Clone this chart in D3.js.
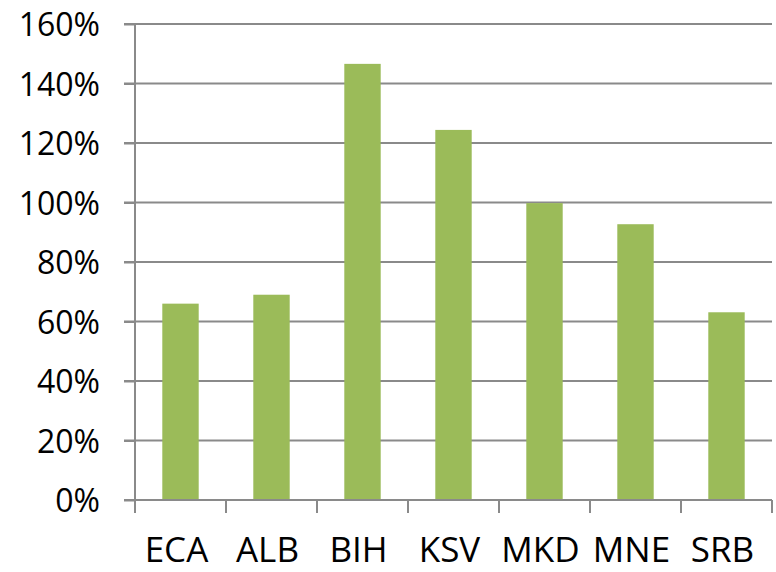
<!DOCTYPE html>
<html>
<head>
<meta charset="utf-8">
<script src="https://cdn.jsdelivr.net/npm/d3@7"></script>
<style>
  body { margin: 0; background: #fff; }
  svg { display: block; }
  .axis text { font-family: "Open Sans", sans-serif; font-size: 32px; fill: #000; }
  .axis text.xlbl { font-size: 35px; }
</style>
</head>
<body>
<svg id="chart"></svg>
<script>
var categories = ['ECA', 'ALB', 'BIH', 'KSV', 'MKD', 'MNE', 'SRB'];
var values = [0.66, 0.69, 1.466, 1.244, 0.998, 0.927, 0.631];
var yTicks = [0, 0.2, 0.4, 0.6, 0.8, 1.0, 1.2, 1.4, 1.6];

var totalWidth = 776;
var totalHeight = 572;
var margin = { top: 24, right: 4, bottom: 72, left: 135 };
var width = totalWidth - margin.left - margin.right;
var height = totalHeight - margin.top - margin.bottom;

var svg = d3.select("#chart")
    .attr("width", totalWidth)
    .attr("height", totalHeight);

var g = svg.append("g")
    .attr("transform", "translate(" + margin.left + "," + margin.top + ")");

var x = d3.scaleBand().domain(categories).range([0, width]).paddingInner(0.6).paddingOuter(0.3);
var xTick = d3.scaleBand().domain(categories).range([0, width]);
var y = d3.scaleLinear().domain([0, 1.6]).range([height, 0]);

// gridlines (extend left past the axis like excel tick marks)
g.append("g")
    .selectAll("line")
    .data(yTicks)
    .enter()
    .append("line")
    .attr("x1", -11)
    .attr("x2", width)
    .attr("y1", function (d) { return y(d); })
    .attr("y2", function (d) { return y(d); })
    .attr("stroke", "#8a8a8a")
    .attr("stroke-width", 2);

// bars
g.selectAll(".bar")
    .data(categories)
    .enter()
    .append("rect")
    .attr("class", "bar")
    .attr("x", function (d) { return x(d); })
    .attr("y", function (d, i) { return y(values[i]); })
    .attr("width", x.bandwidth())
    .attr("height", function (d, i) { return height - y(values[i]); })
    .attr("fill", "#9bbb59");

// y axis
var yAxis = g.append("g")
    .attr("class", "axis")
    .call(d3.axisLeft(y).tickValues(yTicks).tickSize(11).tickPadding(24)
        .tickFormat(function (d) { return Math.round(d * 100) + "%"; }));
yAxis.select(".domain").attr("stroke", "#8a8a8a").attr("stroke-width", 2).attr("d", "M0,0V" + height);
yAxis.selectAll(".tick line").attr("stroke", "#8a8a8a").attr("stroke-width", 2);
yAxis.selectAll(".tick text").attr("dy", "0.36em");

// x axis: ticks between categories
var xg = g.append("g")
    .attr("class", "axis")
    .attr("transform", "translate(0," + height + ")");
xg.append("line")
    .attr("x1", 0).attr("x2", width)
    .attr("stroke", "#8a8a8a").attr("stroke-width", 2);
var bounds = categories.map(function (d) { return xTick(d); }).concat([width]);
xg.selectAll(".sep")
    .data(bounds)
    .enter()
    .append("line")
    .attr("x1", function (d) { return d; })
    .attr("x2", function (d) { return d; })
    .attr("y1", 0)
    .attr("y2", 13)
    .attr("stroke", "#8a8a8a")
    .attr("stroke-width", 2);
xg.selectAll(".lbl")
    .data(categories)
    .enter()
    .append("text")
    .attr("class", "xlbl")
    .attr("x", function (d) { return xTick(d) + xTick.bandwidth() / 2 - 4; })
    .attr("y", 62)
    .attr("text-anchor", "middle")
    .text(function (d) { return d; });
</script>
</body>
</html>
